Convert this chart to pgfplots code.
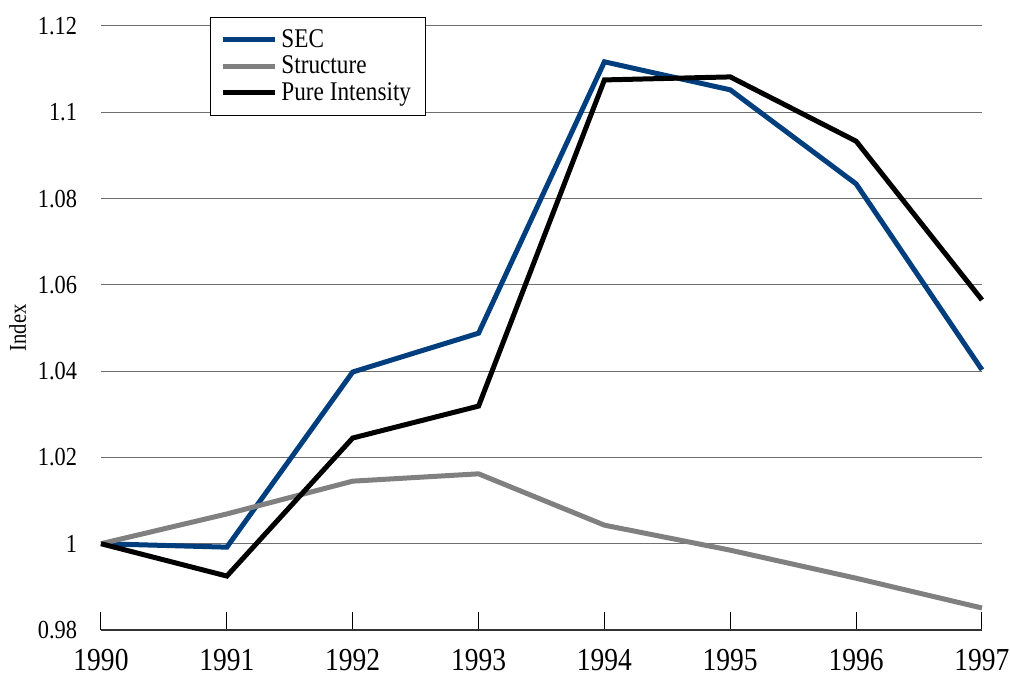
\documentclass[border=0pt]{standalone}
\usepackage{fontspec}
\setmainfont{Liberation Serif}[FakeStretch=0.86]
\usepackage{pgfplots}
\pgfplotsset{compat=1.18}
\usetikzlibrary{calc}
\definecolor{secblue}{RGB}{0,62,125}
\definecolor{strgrey}{RGB}{128,128,128}
\definecolor{gridgrey}{RGB}{110,110,110}

\begin{document}
\begin{tikzpicture}
\begin{axis}[
  name=ax, scale only axis, width=440.5bp, height=302bp,
  xmin=1990, xmax=1997, ymin=0.98, ymax=1.12,
  xtick={1990,...,1997}, ytick={0.98,1,...,1.12},
  /pgf/number format/assume math mode=true,
  xticklabel style={/pgf/number format/1000 sep={}, font=\fontsize{16bp}{18bp}\selectfont, yshift=-8.5bp, inner ysep=1bp},
  yticklabel style={font=\fontsize{13bp}{15bp}\selectfont, xshift=-8.5bp},
  ylabel={Index}, ylabel style={font=\fontsize{12bp}{14bp}\selectfont, yshift=-1bp},
  axis x line*=bottom, axis y line*=left,
  x axis line style={draw=black!80, line width=0.8pt, -},
  y axis line style={draw=none},
  x tick style={draw=black, line width=0.5pt},
  y tick style={draw=none},
  tick align=inside, major tick length=9bp,
  ymajorgrids, grid style={gridgrey, line width=0.5pt},
  clip=false,
  legend style={at={(0.1237,1.0149)}, anchor=north west, draw=black, line width=0.5pt,
    font=\fontsize{13.5bp}{14bp}\selectfont, row sep=-1.2bp, inner xsep=5bp, inner ysep=4bp},
  legend cell align=left,
  legend image code/.code={\draw[#1, line width=2.5bp] (0bp,0bp) -- (26bp,0bp);},
]
\addplot[secblue, line width=2.5bp] coordinates {(1990,1.0) (1991,0.9992) (1992,1.0398) (1993,1.0488) (1994,1.1117) (1995,1.1052) (1996,1.0834) (1997,1.0403)};
\addplot[strgrey, line width=2.5bp] coordinates {(1990,1.0) (1991,1.0069) (1992,1.0145) (1993,1.0162) (1994,1.0043) (1995,0.9985) (1996,0.9920) (1997,0.9851)};
\addplot[black, line width=2.5bp] coordinates {(1990,1.0) (1991,0.9925) (1992,1.0245) (1993,1.0319) (1994,1.1075) (1995,1.1082) (1996,1.0933) (1997,1.0565)};
\legend{SEC, Structure, Pure Intensity}
\end{axis}
\pgfresetboundingbox
\path[use as bounding box] ($(ax.south west)+(-50.5bp,-22.5bp)$) rectangle ($(ax.north east)+(14bp,13bp)$);
\end{tikzpicture}
\end{document}
